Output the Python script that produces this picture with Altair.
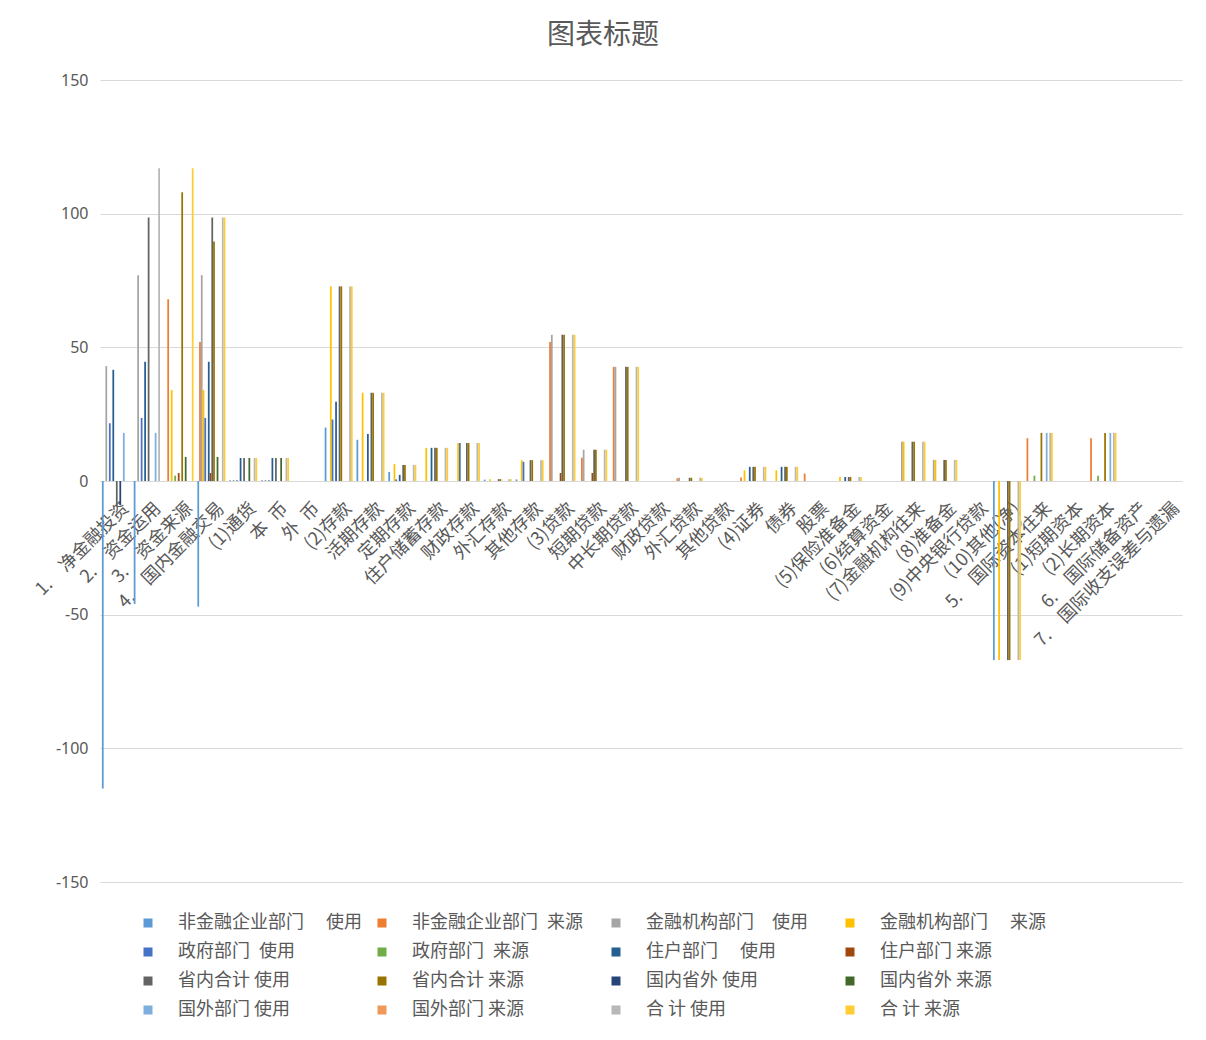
import altair as alt
import pandas as pd

categories = ["1.\u3000净金融投资", "2.\u3000资金运用", "3.\u3000资金来源", "4.\u3000国内金融交易", "(1)通货", "本\u2002币", "外\u2002币",
              "(2)存款", "活期存款", "定期存款", "住户储蓄存款", "财政存款", "外汇存款", "其他存款",
              "(3)贷款", "短期贷款", "中长期贷款", "财政贷款", "外汇贷款", "其他贷款",
              "(4)证券", "债券", "股票", "(5)保险准备金", "(6)结算资金", "(7)金融机构往来", "(8)准备金",
              "(9)中央银行贷款", "(10)其他(净)", "5.\u3000国际资本往来", "(1)短期资本", "(2)长期资本",
              "6.\u3000国际储备资产", "7.\u3000国际收支误差与遗漏"]

series = ["非金融企业部门\u3000 使用", "非金融企业部门\u2002来源", "金融机构部门\u3000使用", "金融机构部门\u3000 来源",
          "政府部门\u2002使用", "政府部门\u2002来源", "住户部门\u3000 使用", "住户部门 来源",
          "省内合计 使用", "省内合计 来源", "国内省外 使用", "国内省外 来源",
          "国外部门 使用", "国外部门 来源", "合 计 使用", "合 计 来源"]

colors = ["#5B9BD5", "#ED7D31", "#A5A5A5", "#FFC000", "#4472C4", "#70AD47", "#255E91", "#9E480E",
          "#636363", "#997300", "#264478", "#43682B", "#7CAFDD", "#F1975A", "#B7B7B7", "#FFCD33"]

nonfin_use = [-115, -46, 0, -47, 0.3, 0.3, 0, 20, 15.4, 3.4, 0, 0, 0.5, 0.6, 0, 0, 0, 0, 0, 0, 0, 0, 0, 0, 0, 0, 0, 0, -67, 0, 0, 0, 0, 0]
nonfin_src = [0, 0, 68, 52, 0, 0, 0, 0, 0, 0, 0, 0, 0, 0, 52, 8.7, 42.7, 0, 1, 0, 1.3, 0, 2.8, 0, 0, 0, 0, 0, 0, 16, 0, 16, 0, 0]
fin_use = [43, 77, 0, 77, 0.4, 0.4, 0, 0, 0, 0, 0, 0, 0, 0, 54.7, 11.7, 42.7, 0, 1.2, 0, 0, 0, 0, 0, 0, 14.7, 7.9, 0, 0, 0, 0, 0, 0, 0]
fin_src = [0, 0, 34, 34, 0, 0, 0, 72.8, 33, 6.3, 12.4, 14.2, 0.7, 7.8, 0, 0, 0, 0, 0, 0, 4, 4, 0, 1.5, 0, 14.7, 7.9, 0, -67, 0, 0, 0, 0, 0]
gov_use = [21.6, 23.6, 0, 23.6, 0.3, 0.3, 0, 23, 0, 0.6, 0, 14.2, 0, 7.2, 0, 0, 0, 0, 0, 0, 0, 0, 0, 0, 0, 0, 0, 0, 0, 0, 0, 0, 0, 0]
gov_src = [0, 0, 2, 0, 0, 0, 0, 0, 0, 0, 0, 0, 0, 0, 0, 0, 0, 0, 0, 0, 0, 0, 0, 0, 0, 0, 0, 0, 0, 2, 0, 2, 0, 0]
hh_use = [41.6, 44.6, 0, 44.6, 8.6, 8.6, 0, 29.6, 17.6, 2.3, 12.4, 0, 0, 0, 0, 0, 0, 0, 0, 0, 5.3, 5.3, 0, 1.5, 0, 0, 0, 0, 0, 0, 0, 0, 0, 0]
hh_src = [0, 0, 3, 3, 0, 0, 0, 0, 0, 0, 0, 0, 0, 0, 3, 3, 0, 0, 0, 0, 0, 0, 0, 0, 0, 0, 0, 0, 0, 0, 0, 0, 0, 0]
prov_use = [-9.4, 98.6, 0, 98.6, 8.6, 8.6, 0, 72.8, 33, 6, 12.4, 14.2, 0.7, 7.8, 54.7, 11.7, 42.7, 0, 1.2, 0, 5.3, 5.3, 0, 1.5, 0, 14.7, 7.9, 0, -67, 0, 0, 0, 0, 0]
prov_src = [0, 0, 108, 89.6, 0, 0, 0, 72.8, 33, 6, 12.4, 14.2, 0.7, 7.8, 54.7, 11.7, 42.7, 0, 1.2, 0, 5.3, 5.3, 0, 1.5, 0, 14.7, 7.9, 0, -67, 18, 0, 18, 0, 0]
dom_use = [-9, 0, 0, 0, 0, 0, 0, 0, 0, 0, 0, 0, 0, 0, 0, 0, 0, 0, 0, 0, 0, 0, 0, 0, 0, 0, 0, 0, 0, 0, 0, 0, 0, 0]
dom_src = [0, 0, 9, 9, 8.6, 8.6, 0, 0, 0, 0, 0, 0, 0, 0, 0, 0, 0, 0, 0, 0, 0, 0, 0, 0, 0, 0, 0, 0, 0, 0, 0, 0, 0, 0]
for_use = [18, 18, 0, 0, 0, 0, 0, 0, 0, 0, 0, 0, 0, 0, 0, 0, 0, 0, 0, 0, 0, 0, 0, 0, 0, 0, 0, 0, 0, 18, 0, 18, 0, 0]
for_src = [0] * 34
tot_use = [0, 117, 0, 98.6, 8.6, 8.6, 0, 72.8, 33, 6, 12.4, 14.2, 0.7, 7.8, 54.7, 11.7, 42.7, 0, 1.2, 0, 5.3, 5.3, 0, 1.5, 0, 14.7, 7.9, 0, -67, 18, 0, 18, 0, 0]
tot_src = [0, 0, 117, 98.6, 8.6, 8.6, 0, 72.8, 33, 6, 12.4, 14.2, 0.7, 7.8, 54.7, 11.7, 42.7, 0, 1.2, 0, 5.3, 5.3, 0, 1.5, 0, 14.7, 7.9, 0, -67, 18, 0, 18, 0, 0]

all_values = [nonfin_use, nonfin_src, fin_use, fin_src, gov_use, gov_src, hh_use, hh_src,
              prov_use, prov_src, dom_use, dom_src, for_use, for_src, tot_use, tot_src]

rows = []
for s, vals in zip(series, all_values):
    for c, v in zip(categories, vals):
        rows.append({"cat": c, "series": s, "value": v})
df = pd.DataFrame(rows)

CJK = "Noto Sans CJK SC"
GREY = "#595959"

chart = alt.Chart(df).mark_bar().encode(
    x=alt.X("cat:N", sort=categories,
            scale=alt.Scale(paddingInner=0.12, paddingOuter=0.06),
            axis=alt.Axis(title=None, labelAngle=-45, labelFontSize=18, labelFont=CJK, labelColor=GREY,
                          ticks=False, domain=True, domainColor="#D9D9D9", domainWidth=1, grid=False,
                          offset=-401, labelPadding=18, labelOffset=4, labelOverlap=False, labelLimit=400)),
    xOffset=alt.XOffset("series:N", sort=series, scale=alt.Scale(paddingInner=0, paddingOuter=0)),
    y=alt.Y("value:Q", scale=alt.Scale(domain=[-150, 150], nice=False),
            axis=alt.Axis(title=None, values=[-150, -100, -50, 0, 50, 100, 150], labelExpr="datum.value + ''",
                          labelFontSize=16, labelFont="Noto Sans", labelColor=GREY, ticks=False, domain=False,
                          grid=True, gridColor="#D9D9D9", gridWidth=1, labelPadding=12)),
    color=alt.Color("series:N", sort=series, scale=alt.Scale(domain=series, range=colors),
                    legend=alt.Legend(title=None, orient="none", legendX=39, legendY=834, columns=4,
                                      direction="horizontal",
                                      symbolType="square", symbolSize=81, symbolStrokeWidth=0,
                                      labelFontSize=18, labelFont=CJK, labelColor=GREY, labelOffset=21,
                                      columnPadding=10, rowPadding=11, gridAlign="all", labelLimit=400)),
).properties(
    width=1082, height=802,
    title=alt.Title("图表标题", fontSize=28, font=CJK, color=GREY, fontWeight="normal",
                    anchor="middle", frame="group", dx=-38, offset=22),
    autosize="none",
    padding={"left": 92, "top": 72, "right": 16, "bottom": 150},
    background="white",
).configure_view(stroke=None)

chart.save("out.html", embed_options={"renderer": "svg", "actions": False})
